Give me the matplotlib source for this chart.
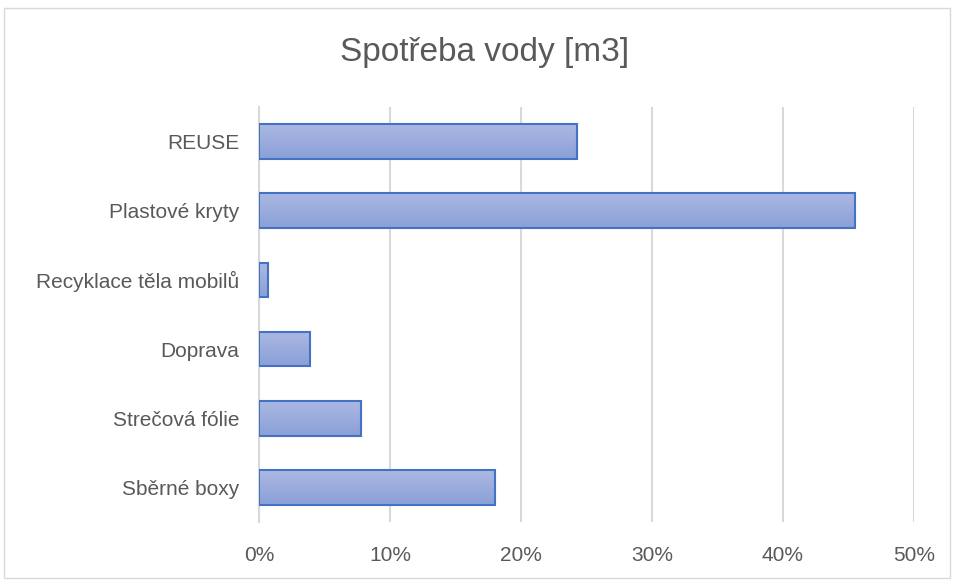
import matplotlib.pyplot as plt
import numpy as np
from matplotlib.patches import Rectangle
from matplotlib.colors import LinearSegmentedColormap

plt.rcParams['font.family'] = ['Liberation Sans Narrow', 'Liberation Sans', 'DejaVu Sans']

# data (share of total)
categories = ['Sběrné boxy', 'Strečová fólie', 'Doprava',
              'Recyklace těla mobilů', 'Plastové kryty', 'REUSE']
values = [0.180, 0.0776, 0.039, 0.007, 0.455, 0.243]
tick_vals = [0, 0.1, 0.2, 0.3, 0.4, 0.5]
tick_labels = ['0%', '10%', '20%', '30%', '40%', '50%']
title = 'Spotřeba vody [m3]'

fig = plt.figure(figsize=(9.54, 5.81), dpi=100)
ax = fig.add_axes([259 / 954, 1 - 522 / 581, (914 - 259) / 954, (522 - 107) / 581])

# outer chart border
fig.patches.append(Rectangle((4 / 954, 3 / 581), 946 / 954, 570 / 581,
                             transform=fig.transFigure, fill=False,
                             edgecolor='#d9d9d9', linewidth=1))

y = np.arange(len(categories))
bars = ax.barh(y, values, height=0.5, color='none', edgecolor='#4472c4',
               linewidth=1.5, zorder=3)

# vertical gradient fill inside each bar (light on top)
grad = np.linspace(0, 1, 64).reshape(-1, 1)
cmap = LinearSegmentedColormap.from_list('g', ['#abb8e2', '#8aa0d8'])
for b in bars:
    x0, y0 = b.get_x(), b.get_y()
    w, h = b.get_width(), b.get_height()
    ax.imshow(grad, cmap=cmap, aspect='auto', extent=(x0, x0 + w, y0, y0 + h),
              origin='upper', zorder=2, interpolation='bilinear')

ax.set_xlim(0, 0.5)
ax.set_ylim(-0.5, len(categories) - 0.5)
ax.set_xticks(tick_vals)
ax.set_xticklabels(tick_labels)
ax.set_yticks(y)
ax.set_yticklabels(categories)
ax.tick_params(length=0, labelsize=15, colors='#595959', pad=14)
ax.tick_params(axis='x', pad=17)
ax.grid(axis='x', color='#d9d9d9', linewidth=1.5, zorder=0)
ax.set_axisbelow(True)
for s in ['top', 'right', 'bottom']:
    ax.spines[s].set_visible(False)
ax.spines['left'].set_color('#d9d9d9')
ax.spines['left'].set_linewidth(1.5)

fig.text(485 / 954, 1 - 53 / 581, title, ha='center', va='center',
         fontsize=24, color='#595959')

plt.savefig('out.png', dpi=100)
